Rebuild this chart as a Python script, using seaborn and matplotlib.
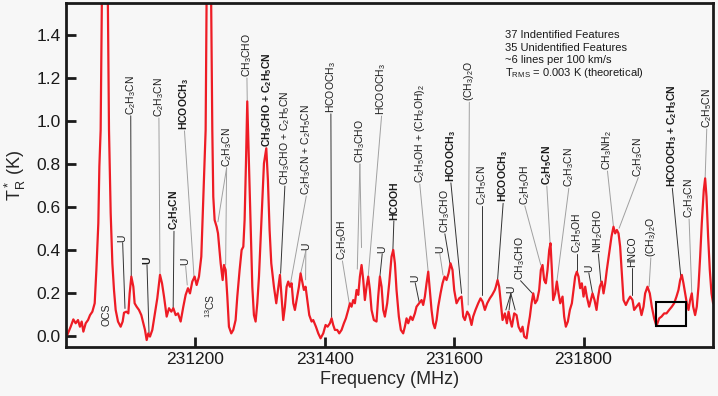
import numpy as np
import pandas as pd
import matplotlib
matplotlib.use('Agg')
import matplotlib.pyplot as plt
import seaborn as sns
from matplotlib.patches import Rectangle
from matplotlib.ticker import FormatStrFormatter

# spectrum (MHz, K)
freq_mhz = [
    231000.0, 231002.5, 231007.7, 231011.8, 231015.4, 231019.0, 231022.0, 231024.7, 231027.3, 231030.9,
    231034.5, 231037.6, 231041.2, 231044.8, 231047.4, 231050.4, 231052.0, 231054.0, 231056.0, 231059.0,
    231062.0, 231065.0, 231066.9, 231069.5, 231072.1, 231074.6, 231077.2, 231080.8, 231084.9, 231088.0,
    231090.1, 231093.7, 231096.8, 231098.8, 231101.4, 231104.5, 231106.5, 231109.6, 231113.2, 231116.8,
    231119.9, 231122.5, 231125.1, 231127.6, 231130.2, 231133.8, 231137.4, 231141.5, 231145.7, 231148.8,
    231151.9, 231156.0, 231159.6, 231163.2, 231166.3, 231169.9, 231173.5, 231177.6, 231181.7, 231185.3,
    231188.9, 231192.0, 231195.6, 231199.2, 231202.3, 231205.9, 231209.5, 231212.6, 231216.2, 231218.0,
    231221.0, 231224.0, 231226.5, 231228.0, 231230.1, 231233.2, 231235.3, 231239.4, 231242.5, 231244.5,
    231247.1, 231249.7, 231252.2, 231255.8, 231258.9, 231262.5, 231265.1, 231268.7, 231271.8, 231274.4,
    231276.4, 231278.5, 231280.5, 231283.1, 231285.7, 231288.3, 231290.8, 231293.4, 231296.0, 231298.6,
    231302.2, 231306.3, 231309.9, 231312.4, 231315.0, 231317.6, 231321.7, 231325.3, 231327.9, 231331.0,
    231333.5, 231336.1, 231338.7, 231341.3, 231343.8, 231346.4, 231349.0, 231351.6, 231354.1, 231357.7,
    231360.3, 231362.9, 231365.5, 231368.0, 231370.6, 231373.2, 231376.3, 231379.9, 231382.4, 231386.6,
    231390.2, 231393.8, 231397.9, 231401.5, 231404.6, 231408.2, 231410.8, 231413.3, 231415.9, 231419.5,
    231422.6, 231426.2, 231429.8, 231432.9, 231436.5, 231439.1, 231441.6, 231444.2, 231446.8, 231449.4,
    231452.0, 231454.5, 231457.1, 231459.7, 231462.2, 231464.8, 231467.4, 231470.0, 231472.5, 231476.1,
    231480.2, 231482.8, 231485.4, 231488.0, 231490.6, 231493.1, 231496.7, 231499.8, 231503.4, 231506.0,
    231508.6, 231511.1, 231514.7, 231517.8, 231521.4, 231524.0, 231526.6, 231529.2, 231532.8, 231535.9,
    231539.5, 231542.0, 231546.1, 231549.8, 231552.3, 231554.9, 231557.5, 231560.1, 231562.6, 231565.2,
    231567.8, 231570.3, 231573.0, 231575.5, 231579.1, 231582.2, 231585.3, 231588.4, 231591.5, 231594.5,
    231597.6, 231600.2, 231603.8, 231607.9, 231611.5, 231614.1, 231616.7, 231620.3, 231623.4, 231627.0,
    231629.5, 231633.1, 231637.3, 231640.9, 231644.0, 231647.6, 231651.2, 231655.3, 231658.9, 231663.0,
    231664.6, 231667.2, 231669.7, 231672.3, 231674.9, 231678.5, 231681.6, 231684.2, 231686.7, 231689.3,
    231692.9, 231696.5, 231699.6, 231703.2, 231705.8, 231708.4, 231712.0, 231714.5, 231717.1, 231719.7,
    231722.3, 231725.3, 231728.4, 231731.5, 231734.1, 231736.7, 231739.2, 231741.8, 231744.4, 231747.0,
    231749.0, 231751.1, 231753.1, 231756.2, 231758.8, 231761.4, 231764.0, 231767.6, 231770.1, 231772.7,
    231775.8, 231778.9, 231782.0, 231784.5, 231787.1, 231789.7, 231792.3, 231794.8, 231797.4, 231800.0,
    231802.6, 231805.1, 231808.7, 231811.3, 231813.9, 231817.0, 231820.1, 231822.6, 231825.2, 231828.3,
    231830.9, 231833.5, 231836.0, 231839.6, 231843.2, 231846.3, 231848.9, 231851.5, 231854.1, 231856.6,
    231859.2, 231861.8, 231865.4, 231869.0, 231872.1, 231875.7, 231878.2, 231881.8, 231885.9, 231889.6,
    231892.7, 231895.2, 231898.8, 231902.4, 231905.5, 231909.1, 231912.7, 231916.9, 231920.5, 231924.6,
    231928.2, 231932.3, 231936.4, 231940.0, 231943.6, 231946.7, 231949.3, 231951.9, 231954.4, 231957.0,
    231959.6, 231962.2, 231964.7, 231967.3, 231969.4, 231972.4, 231975.0, 231977.6, 231980.2, 231982.7,
    231985.8, 231987.9, 231990.0, 231992.5, 231995.1, 231997.7, 232000.2, 232002.8,
]
t_r = [
    0.010, 0.004, 0.042, 0.076, 0.058, 0.073, 0.042, 0.066, 0.019, 0.058,
    0.073, 0.096, 0.112, 0.151, 0.306, 0.523, 0.786, 0.957, 1.600, 2.200,
    2.100, 1.600, 0.957, 0.570, 0.337, 0.213, 0.120, 0.066, 0.042, 0.066,
    0.107, 0.112, 0.104, 0.197, 0.275, 0.228, 0.151, 0.135, 0.120, 0.096,
    0.058, 0.027, -0.020, 0.011, -0.004, 0.027, 0.096, 0.174, 0.283, 0.244,
    0.182, 0.089, 0.128, 0.112, 0.128, 0.096, 0.104, 0.066, 0.135, 0.190,
    0.221, 0.197, 0.252, 0.275, 0.236, 0.275, 0.368, 0.647, 0.957, 1.700,
    2.300, 1.800, 0.957, 0.647, 0.538, 0.507, 0.476, 0.337, 0.259, 0.329,
    0.306, 0.182, 0.042, 0.011, 0.027, 0.073, 0.182, 0.306, 0.399, 0.414,
    0.538, 0.802, 1.090, 0.800, 0.492, 0.228, 0.096, 0.066, 0.151, 0.275,
    0.523, 0.802, 0.872, 0.724, 0.492, 0.337, 0.228, 0.151, 0.213, 0.283,
    0.182, 0.073, 0.135, 0.228, 0.252, 0.228, 0.244, 0.151, 0.120, 0.182,
    0.228, 0.290, 0.252, 0.213, 0.228, 0.166, 0.096, 0.066, 0.073, 0.042,
    0.011, -0.012, 0.011, 0.050, 0.042, 0.058, 0.081, 0.050, 0.027, 0.027,
    0.011, 0.027, 0.058, 0.081, 0.120, 0.151, 0.135, 0.166, 0.151, 0.213,
    0.190, 0.275, 0.329, 0.259, 0.166, 0.228, 0.275, 0.213, 0.120, 0.073,
    0.066, 0.182, 0.275, 0.228, 0.120, 0.089, 0.151, 0.244, 0.368, 0.399,
    0.337, 0.213, 0.089, 0.027, 0.011, 0.042, 0.081, 0.058, 0.089, 0.073,
    0.104, 0.135, 0.151, 0.166, 0.143, 0.182, 0.244, 0.298, 0.213, 0.120,
    0.058, 0.035, 0.073, 0.135, 0.197, 0.244, 0.275, 0.259, 0.290, 0.337,
    0.306, 0.213, 0.151, 0.174, 0.182, 0.089, 0.073, 0.112, 0.096, 0.050,
    0.089, 0.120, 0.151, 0.174, 0.159, 0.120, 0.151, 0.174, 0.190, 0.213,
    0.228, 0.259, 0.228, 0.151, 0.073, 0.104, 0.058, 0.112, 0.073, 0.042,
    0.104, 0.096, 0.042, 0.019, 0.042, -0.004, -0.012, 0.042, 0.089, 0.151,
    0.197, 0.151, 0.166, 0.213, 0.306, 0.329, 0.259, 0.244, 0.306, 0.399,
    0.430, 0.306, 0.166, 0.197, 0.252, 0.197, 0.151, 0.182, 0.089, 0.042,
    0.066, 0.120, 0.151, 0.213, 0.275, 0.298, 0.275, 0.221, 0.244, 0.182,
    0.228, 0.182, 0.135, 0.166, 0.197, 0.166, 0.120, 0.182, 0.228, 0.252,
    0.197, 0.244, 0.306, 0.383, 0.461, 0.507, 0.476, 0.492, 0.476, 0.414,
    0.290, 0.166, 0.143, 0.166, 0.182, 0.166, 0.120, 0.135, 0.151, 0.096,
    0.135, 0.197, 0.228, 0.197, 0.135, 0.081, 0.045, 0.081, 0.089, 0.104,
    0.104, 0.120, 0.135, 0.151, 0.182, 0.213, 0.259, 0.283, 0.244, 0.197,
    0.151, 0.120, 0.166, 0.197, 0.135, 0.096, 0.135, 0.228, 0.368, 0.523,
    0.678, 0.732, 0.647, 0.461, 0.306, 0.197, 0.151, 0.213,
]

# line identifications: text, label x, label bottom, leader targets, bold, light leader
mol_text = [
    'U', 'C$_2$H$_3$CN', 'C$_2$H$_3$CN', 'U', 'HCOOCH$_3$', 'C$_2$H$_5$CN', 'U',
    'C$_2$H$_3$CN', 'CH$_3$CHO', 'CH$_3$CHO + C$_2$H$_5$CN', 'CH$_3$CHO + C$_2$H$_5$CN',
    'C$_2$H$_3$CN + C$_2$H$_5$CN', 'U', 'HCOOCH$_3$', 'C$_2$H$_5$OH', 'CH$_3$CHO',
    'HCOOCH$_3$', 'U', 'HCOOH', 'C$_2$H$_5$OH + (CH$_2$OH)$_2$', 'U', 'U', 'CH$_3$CHO',
    'HCOOCH$_3$', '(CH$_3$)$_2$O', 'C$_2$H$_5$CN', 'HCOOCH$_3$', 'U', 'CH$_3$CHO',
    'C$_2$H$_5$OH', 'C$_2$H$_5$CN', 'C$_2$H$_3$CN', 'C$_2$H$_5$OH', 'U', 'NH$_2$CHO',
    'CH$_3$NH$_2$', 'C$_2$H$_3$CN', 'HNCO', '(CH$_3$)$_2$O', 'HCOOCH$_3$ + C$_2$H$_3$CN',
    'C$_2$H$_3$CN', 'C$_2$H$_5$CN',
]
mol_x = [
    231088.0, 231100.5, 231144.0, 231125.6, 231183.5, 231167.3, 231185.3,
    231248.6, 231280.0, 231311.7, 231338.6,
    231371.7, 231371.0, 231409.7, 231427.5, 231454.5,
    231488.0, 231489.0, 231507.0, 231547.0, 231540.0, 231578.0, 231585.8,
    231595.1, 231623.6, 231643.7, 231675.8, 231687.7, 231702.7,
    231709.3, 231743.3, 231777.3, 231789.7, 231808.2, 231822.9,
    231837.0, 231884.6, 231874.6, 231904.0, 231937.2,
    231963.1, 231990.4,
]
mol_y = [
    0.437, 1.027, 1.017, 0.333, 0.957, 0.490, 0.328,
    0.785, 1.203, 0.878, 0.700,
    0.654, 0.400, 1.036, 0.352, 0.803,
    1.026, 0.385, 0.538, 0.710, 0.250, 0.385, 0.478,
    0.715, 1.090, 0.608, 0.620, 0.200, 0.260,
    0.608, 0.700, 0.690, 0.385, 0.296, 0.385,
    0.770, 0.740, 0.320, 0.366, 0.690,
    0.547, 0.966,
]
mol_targets = [
    [(231091.6, 0.127)], [(231101.3, 0.274)], [(231145.7, 0.283)], [(231128.7, 0.013)],
    [(231198.2, 0.275)], [(231166.0, 0.120)], [(231187.8, 0.236)],
    [(231235.2, 0.530), (231247.1, 0.329)], [(231280.5, 1.090)], [], [(231332.0, 0.290)],
    [(231346.4, 0.228)], [(231363.0, 0.290), (231370.6, 0.260)], [(231410.8, 0.085)],
    [(231438.0, 0.152)], [(231450.5, 0.310), (231457.0, 0.410)],
    [(231467.3, 0.274)], [(231485.4, 0.275)], [(231505.5, 0.400)], [(231560.0, 0.298)],
    [(231546.0, 0.158)], [(231583.0, 0.282)], [(231593.5, 0.337)],
    [(231611.6, 0.197)], [(231621.8, 0.143)], [(231643.7, 0.190)], [(231667.2, 0.259)],
    [(231680.0, 0.120), (231685.0, 0.120), (231694.4, 0.120)], [(231721.0, 0.197)],
    [(231734.0, 0.329)], [(231748.4, 0.430)], [(231758.8, 0.252)], [(231789.7, 0.298)],
    [(231813.9, 0.197)], [(231826.8, 0.252)],
    [(231846.3, 0.507)], [(231855.0, 0.500)], [(231874.6, 0.190)], [(231901.3, 0.228)],
    [(231950.3, 0.275)], [(231967.3, 0.197)], [(231987.9, 0.733)],
]
mol_bold = [
    False, False, False, True, True, True, False,
    False, False, True, False,
    False, False, False, False, False,
    False, False, True, False, False, False, False,
    True, False, False, True, False, False,
    False, True, False, False, False, False,
    False, False, False, False, True,
    False, False,
]
mol_light = [
    False, False, True, False, True, False, True,
    True, True, False, False,
    True, True, False, True, True,
    True, False, False, True, False, True, False,
    False, True, False, False, False, False,
    True, True, True, False, False, False,
    True, True, False, True, False,
    True, True,
]
notes = ['37 Indentified Features', '35 Unidentified Features',
         '~6 lines per 100 km/s', 'T$_{RMS}$ = 0.003 K (theoretical)']

sns.set_style('ticks')
plt.rcParams['font.family'] = ['Liberation Sans', 'DejaVu Sans']
plt.rcParams['mathtext.default'] = 'regular'

spec = pd.DataFrame({'freq': freq_mhz, 'tr': t_r})

fig = plt.figure(figsize=(7.18, 3.96), dpi=100, facecolor='#f7f7f7')
ax = fig.add_axes([0.0915, 0.1245, 0.9015, 0.8675])
ax.set_facecolor('#f7f7f7')

sns.lineplot(data=spec, x='freq', y='tr', sort=False, estimator=None,
             color='#ee1c25', lw=1.6, ax=ax)

for txt, x, y, tg, bold, light in zip(mol_text, mol_x, mol_y, mol_targets, mol_bold, mol_light):
    ax.text(x, y, txt, rotation=90, ha='center', va='bottom', fontsize=7.5,
            fontweight='bold' if bold else 'normal', color='#1a1a1a')
    for tx, ty in tg:
        ax.plot([x, tx], [y - 0.004, ty], color='#a0a0a0' if light else '#333333',
                lw=0.7, zorder=1)

ax.text(231063.8, 0.096, 'OCS', rotation=90, ha='center', va='center', fontsize=7.5)
ax.text(231222.8, 0.138, '$^{13}$CS', rotation=90, ha='center', va='center', fontsize=7.5)

for i, s in enumerate(notes):
    ax.text(231678, 1.397 - i * 0.058, s, ha='left', va='center', fontsize=8, color='#1a1a1a')

ax.add_patch(Rectangle((231912, 0.045), 46, 0.112, fill=False, ec='k', lw=1.5, zorder=5))

ax.set_xlim(231000, 232000)
ax.set_ylim(-0.051, 1.547)
ax.set_xticks([231200, 231400, 231600, 231800])
ax.set_yticks(np.arange(0, 1.41, 0.2))
ax.yaxis.set_major_formatter(FormatStrFormatter('%.1f'))
ax.tick_params(direction='in', length=7, width=2, labelsize=12.5, colors='#1a1a1a')
for sp in ax.spines.values():
    sp.set_linewidth(2)
    sp.set_color('#1a1a1a')
ax.set_xlabel('Frequency (MHz)', fontsize=13, labelpad=3)
ax.set_ylabel('T$_R^*$ (K)', fontsize=13, labelpad=6)

fig.savefig('out.png', dpi=100, facecolor=fig.get_facecolor())
